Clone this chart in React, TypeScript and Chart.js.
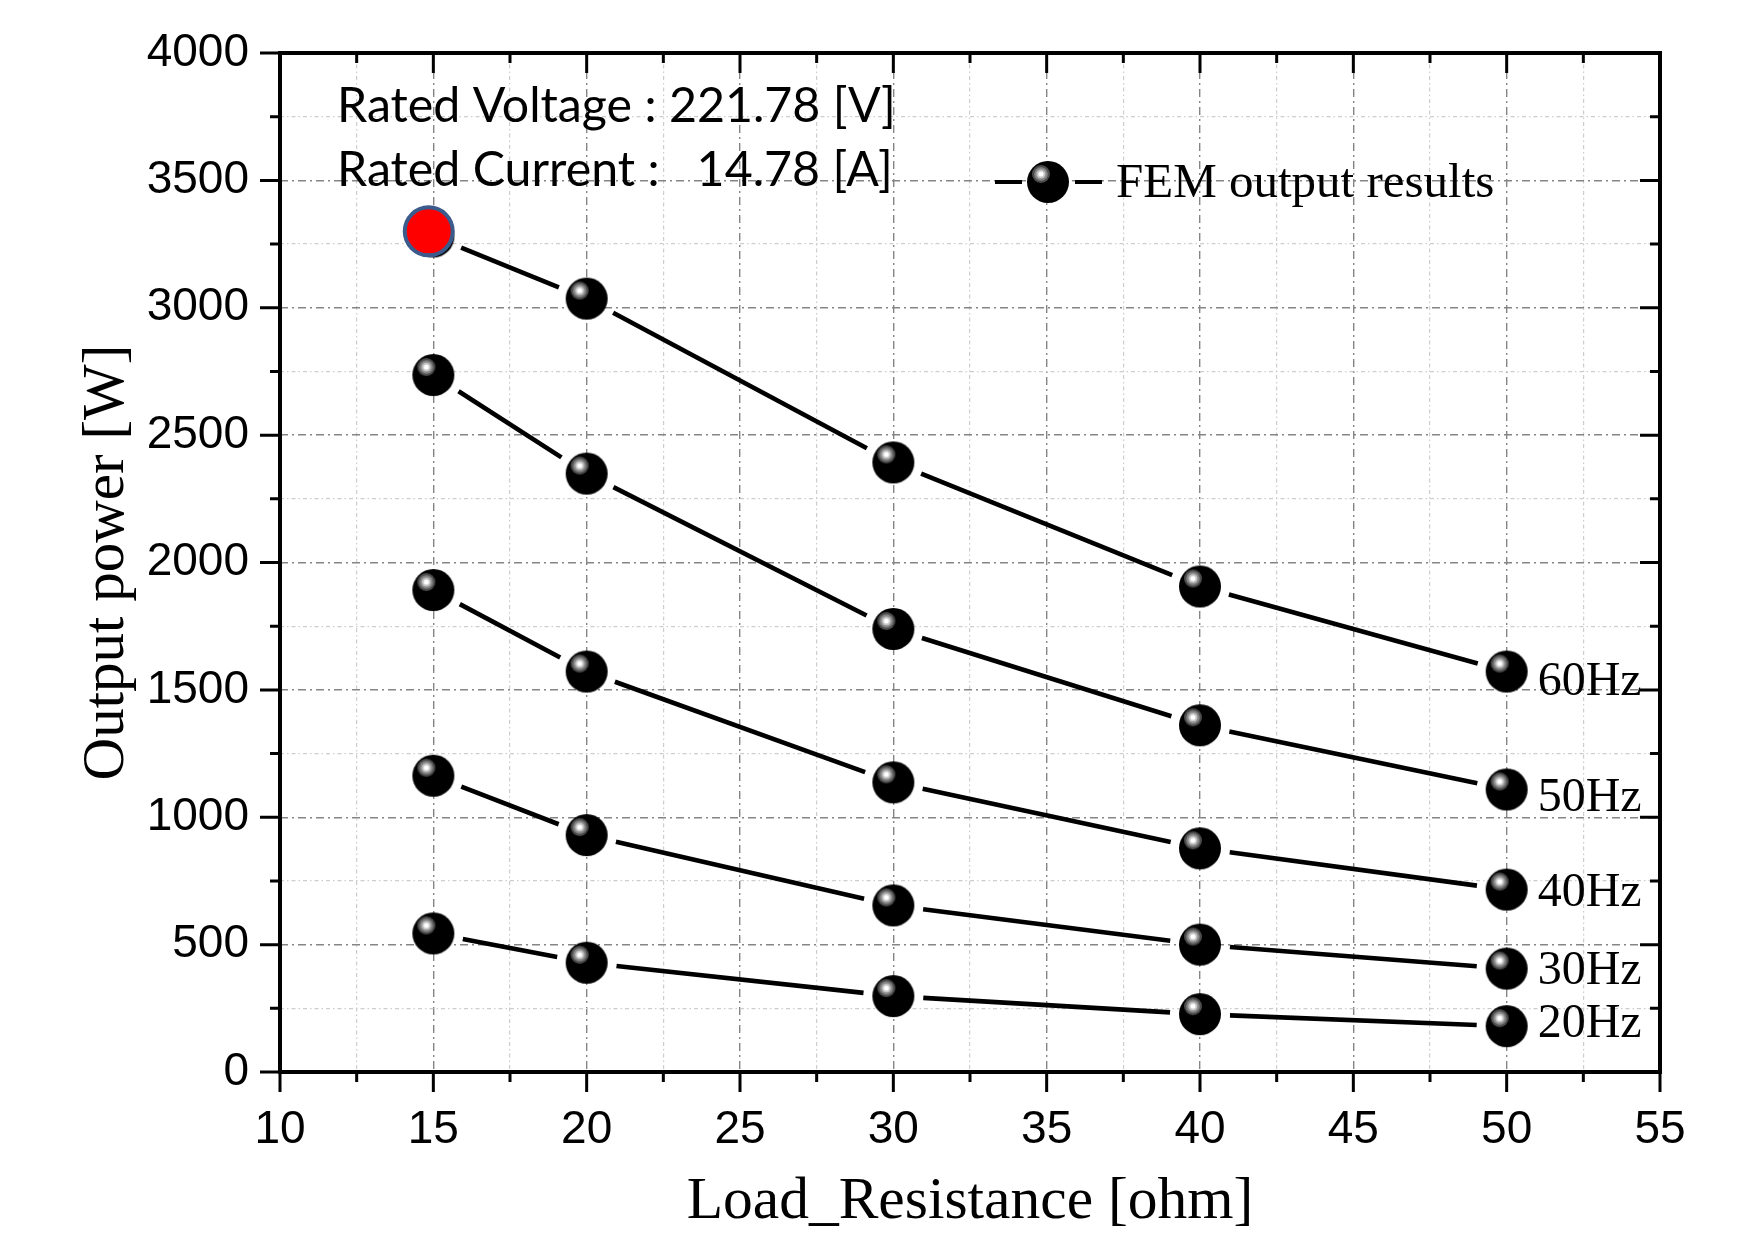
import React, { useEffect, useRef } from 'react';
import { Chart, registerables } from 'chart.js';

Chart.register(...registerables);

// ---------------- data ----------------
const resistance = [15, 20, 30, 40, 50];
const power60Hz = [3280, 3036, 2393, 1906, 1572];
const power50Hz = [2736, 2349, 1739, 1361, 1109];
const power40Hz = [1892, 1572, 1137, 878, 716];
const power30Hz = [1163, 930, 654, 500, 406];
const power20Hz = [544, 429, 298, 227, 180];
const seriesNames = ['60Hz', '50Hz', '40Hz', '30Hz', '20Hz'];
const ratedX = [14.85];
const ratedY = [3300];

const xMin = 10;
const xMax = 55;
const xMinorStep = 2.5;
const xMajorStep = 5;
const yMin = 0;
const yMax = 4000;
const yMinorStep = 250;
const yMajorStep = 500;

const xTitle = 'Load_Resistance [ohm]';
const yTitle = 'Output power [W]';
const legendText = 'FEM output results';
const noteLines = ['Rated Voltage : 221.78 [V]', 'Rated Current :   14.78 [A]'];

// label baseline offsets (px) below the last marker of each series
const seriesLabelDy = [23, 22, 16, 15, 11];

const SANS = '"Liberation Sans", Arial, sans-serif';
const SERIF = '"Liberation Serif", "Times New Roman", serif';
const NOTE_FONT = 'Lato, "Open Sans", sans-serif';

const isMultiple = (v: number, step: number) => Math.abs(v / step - Math.round(v / step)) < 1e-6;

function makeMarker(R: number): HTMLCanvasElement {
  const size = 2 * R + 2;
  const c = document.createElement('canvas');
  c.width = size;
  c.height = size;
  const g = c.getContext('2d')!;
  const cx = size / 2;
  const cy = size / 2;
  g.fillStyle = '#000';
  g.beginPath();
  g.arc(cx, cy, R, 0, Math.PI * 2);
  g.fill();
  const hx = cx - 7;
  const hy = cy - 8;
  const rings: [number, string][] = [
    [9, '#4c4c4c'],
    [6.8, '#858585'],
    [4.6, '#c4c4c4'],
    [2.6, '#ffffff'],
  ];
  rings.forEach(([r, col]) => {
    g.fillStyle = col;
    g.beginPath();
    g.arc(hx, hy, r, 0, Math.PI * 2);
    g.fill();
  });
  return c;
}

export default function App() {
  const canvasRef = useRef<HTMLCanvasElement | null>(null);

  useEffect(() => {
    const canvas = canvasRef.current;
    if (!canvas) return;
    const marker = makeMarker(21);
    const seriesValues = [power60Hz, power50Hz, power40Hz, power30Hz, power20Hz];
    const nSeries = seriesValues.length;

    const datasets: any[] = [
      {
        label: 'rated',
        data: ratedX.map((x, i) => ({ x, y: ratedY[i] })),
        showLine: false,
        pointStyle: 'circle',
        pointRadius: 24,
        pointHoverRadius: 24,
        backgroundColor: '#ff0000',
        borderColor: '#3b5b8c',
        borderWidth: 4,
        order: -1,
        clip: false,
      },
      ...seriesValues.map((vals, i) => ({
        label: seriesNames[i],
        data: resistance.map((x, k) => ({ x, y: vals[k] })),
        showLine: false,
        pointStyle: marker,
        pointRadius: 21,
        pointHoverRadius: 21,
        order: 0,
        clip: false,
      })),
    ];
    const seriesIdx = (i: number) => i + 1;

    const gridColor = (step: number) => (c: any) =>
      c.tick && isMultiple(c.tick.value, step) ? '#858585' : '#cdcdcd';
    const gridWidth = (step: number) => (c: any) =>
      c.tick && isMultiple(c.tick.value, step) ? 1.4 : 1.2;
    const gridDash = (step: number) => (c: any) =>
      c.tick && isMultiple(c.tick.value, step) ? [8, 4, 2, 4] : [4, 3, 1.5, 3];

    const decor = {
      id: 'decor',
      beforeDatasetsDraw(chart: any) {
        const ctx = chart.ctx;
        ctx.save();
        ctx.strokeStyle = '#000';
        ctx.lineWidth = 4.6;
        ctx.lineCap = 'butt';
        for (let i = 0; i < nSeries; i++) {
          const pts = chart.getDatasetMeta(seriesIdx(i)).data;
          for (let k = 0; k < pts.length - 1; k++) {
            const a = pts[k];
            const b = pts[k + 1];
            const dx = b.x - a.x;
            const dy = b.y - a.y;
            const len = Math.hypot(dx, dy);
            const gap = 30;
            if (len <= 2 * gap) continue;
            const ux = dx / len;
            const uy = dy / len;
            ctx.beginPath();
            ctx.moveTo(a.x + ux * gap, a.y + uy * gap);
            ctx.lineTo(b.x - ux * gap, b.y - uy * gap);
            ctx.stroke();
          }
        }
        ctx.restore();
      },
      afterDraw(chart: any) {
        const ctx = chart.ctx;
        const { left, right, top, bottom } = chart.chartArea;
        const xs = chart.scales.x;
        const ys = chart.scales.y;
        ctx.save();
        // ticks
        ctx.strokeStyle = '#000';
        ctx.lineWidth = 3;
        xs.ticks.forEach((t: any) => {
          const px = xs.getPixelForValue(t.value);
          const len = isMultiple(t.value, xMajorStep) ? 20 : 10;
          ctx.beginPath();
          ctx.moveTo(px, bottom);
          ctx.lineTo(px, bottom + len);
          ctx.moveTo(px, top);
          ctx.lineTo(px, top + len);
          ctx.stroke();
        });
        ys.ticks.forEach((t: any) => {
          const py = ys.getPixelForValue(t.value);
          const len = isMultiple(t.value, yMajorStep) ? 20 : 10;
          ctx.beginPath();
          ctx.moveTo(left - len, py);
          ctx.lineTo(left, py);
          ctx.moveTo(right - len, py);
          ctx.lineTo(right, py);
          ctx.stroke();
        });
        // frame
        ctx.lineWidth = 4;
        ctx.strokeRect(left, top, right - left, bottom - top);

        // series labels
        ctx.fillStyle = '#000';
        ctx.font = `48px ${SERIF}`;
        ctx.textAlign = 'left';
        ctx.textBaseline = 'alphabetic';
        for (let i = 0; i < nSeries; i++) {
          const pts = chart.getDatasetMeta(seriesIdx(i)).data;
          const last = pts[pts.length - 1];
          ctx.fillText(seriesNames[i], last.x + 31, last.y + seriesLabelDy[i]);
        }

        // legend
        const lgx = left + 768;
        const lgy = top + 129;
        ctx.lineWidth = 4;
        ctx.beginPath();
        ctx.moveTo(lgx - 53, lgy);
        ctx.lineTo(lgx - 26, lgy);
        ctx.moveTo(lgx + 27, lgy);
        ctx.lineTo(lgx + 54, lgy);
        ctx.stroke();
        ctx.drawImage(marker, lgx - marker.width / 2, lgy - marker.height / 2);
        ctx.font = `49px ${SERIF}`;
        ctx.fillText(legendText, lgx + 68, lgy + 15);

        // rated notes
        ctx.font = `48px ${NOTE_FONT}`;
        const w = ctx.measureText(noteLines[0]).width;
        const size = (48 * 559) / w;
        ctx.font = `${size.toFixed(2)}px ${NOTE_FONT}`;
        ctx.fillText(noteLines[0], left + 57, top + 69);
        ctx.fillText(noteLines[1], left + 57, top + 133);
        ctx.restore();
      },
    };

    const chart = new Chart(canvas, {
      type: 'scatter',
      data: { datasets },
      options: {
        responsive: false,
        animation: false,
        events: [],
        layout: { padding: { left: 0, top: 53, right: 95, bottom: 0 } },
        plugins: { legend: { display: false }, tooltip: { enabled: false } },
        scales: {
          x: {
            type: 'linear',
            min: xMin,
            max: xMax,
            afterFit: (s: any) => {
              s.height = 163;
            },
            ticks: {
              stepSize: xMinorStep,
              autoSkip: false,
              maxRotation: 0,
              padding: 31,
              color: '#000',
              font: { family: SANS, size: 46, lineHeight: 1.2 },
              callback: (v: any) => (isMultiple(Number(v), xMajorStep) ? String(v) : ''),
            },
            grid: {
              drawTicks: false,
              color: gridColor(xMajorStep),
              lineWidth: gridWidth(xMajorStep),
            },
            border: { display: false, dash: gridDash(xMajorStep) },
            title: {
              display: true,
              text: xTitle,
              color: '#000',
              font: { family: SERIF, size: 59.5, lineHeight: 1 },
              padding: { top: 0, bottom: 3 },
            },
          },
          y: {
            type: 'linear',
            min: yMin,
            max: yMax,
            afterFit: (s: any) => {
              s.width = 280;
              s.paddingTop = 0;
              s.paddingBottom = 0;
            },
            ticks: {
              stepSize: yMinorStep,
              autoSkip: false,
              padding: 31,
              color: '#000',
              font: { family: SANS, size: 46, lineHeight: 1.2 },
              callback: (v: any) => (isMultiple(Number(v), yMajorStep) ? String(v) : ''),
            },
            grid: {
              drawTicks: false,
              color: gridColor(yMajorStep),
              lineWidth: gridWidth(yMajorStep),
            },
            border: { display: false, dash: gridDash(yMajorStep) },
            title: {
              display: true,
              text: yTitle,
              color: '#000',
              font: { family: SERIF, size: 59, lineHeight: 1 },
              padding: { top: 78, bottom: 0 },
            },
          },
        },
      } as any,
      plugins: [decor],
    });

    return () => chart.destroy();
  }, []);

  return (
    <div style={{ position: 'absolute', left: 0, top: 0, width: 1755, height: 1235, background: '#fff' }}>
      <canvas ref={canvasRef} width={1755} height={1235} style={{ display: 'block' }} />
    </div>
  );
}
